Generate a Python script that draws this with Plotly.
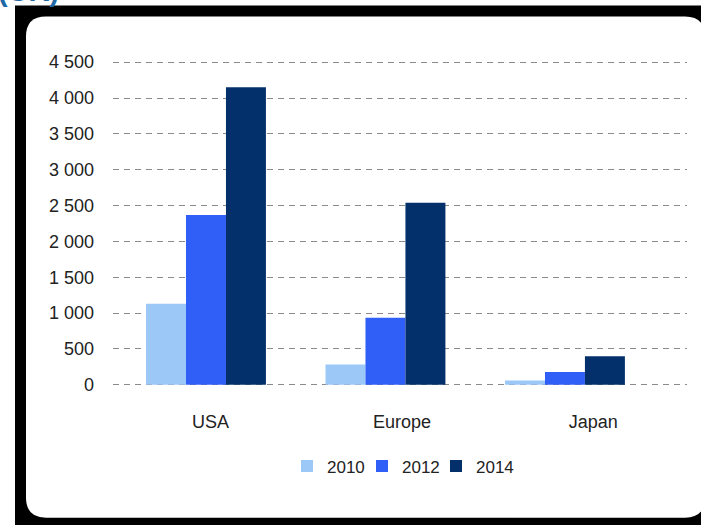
import plotly.graph_objects as go

# Data
regions = ["USA", "Europe", "Japan"]
years = ["2010", "2012", "2014"]
values_2010 = [1130, 285, 60]
values_2012 = [2370, 935, 180]
values_2014 = [4150, 2540, 400]
y_ticks = [0, 500, 1000, 1500, 2000, 2500, 3000, 3500, 4000, 4500]

series = [values_2010, values_2012, values_2014]
colors = ["#9cc8f7", "#2f5ff6", "#03306a"]

W, H = 701, 525
ML, MR, MT, MB = 113, 14, 60.35, 138.35
PW, PH = W - ML - MR, H - MT - MB


def px(x):
    return (x - ML) / PW


def py(y):
    return (H - MB - y) / PH


fig = go.Figure()
legend_names = ["legend", "legend2", "legend3"]
for name, vals, col, lg in zip(years, series, colors, legend_names):
    fig.add_trace(go.Bar(x=regions, y=vals, name=name, marker=dict(color=col, line=dict(width=0)),
                         xaxis="x", yaxis="y", legend=lg))

# category label axis
fig.add_trace(go.Scatter(x=regions, y=[0] * len(regions), mode="markers", marker=dict(opacity=0),
                         showlegend=False, hoverinfo="skip", xaxis="x2", yaxis="y"))

# frame: black border with a rounded white panel inside
r = 20
x0, x1, y0, y1 = 26, 705, 17, 517
rx, ry = r / PW, r / PH
X0, X1, Y0, Y1 = px(x0), px(x1), py(y0), py(y1)
panel = (f"M{X0 + rx},{Y0} L{X1 - rx},{Y0} Q{X1},{Y0} {X1},{Y0 - ry} "
         f"L{X1},{Y1 + ry} Q{X1},{Y1} {X1 - rx},{Y1} "
         f"L{X0 + rx},{Y1} Q{X0},{Y1} {X0},{Y1 + ry} "
         f"L{X0},{Y0 - ry} Q{X0},{Y0} {X0 + rx},{Y0} Z")
shapes = [
    dict(type="rect", xref="paper", yref="paper", x0=px(15), x1=px(701), y0=py(6), y1=py(525),
         fillcolor="black", line=dict(width=0), layer="below"),
    dict(type="path", xref="paper", yref="paper", path=panel, fillcolor="white",
         line=dict(width=0), layer="below"),
]

legend_style = dict(orientation="h", xanchor="left", yanchor="middle", y=py(466),
                    bgcolor="rgba(0,0,0,0)", font=dict(size=17, color="#222222"),
                    itemclick=False, itemdoubleclick=False)
swatch_left = [287, 362, 436]

fig.update_layout(
    width=W, height=H,
    margin=dict(l=ML, r=MR, t=MT, b=MB),
    paper_bgcolor="white", plot_bgcolor="rgba(0,0,0,0)",
    separators=", ",
    barmode="group", bargap=0.332, bargroupgap=0,
    font=dict(family="Liberation Sans, Arial, sans-serif", size=17, color="#222222"),
    shapes=shapes,
    xaxis=dict(type="category", range=[-0.518, 2.68], showticklabels=False, showgrid=False,
               zeroline=False, showline=False, ticks=""),
    xaxis2=dict(type="category", overlaying="x", side="bottom", range=[-0.51, 2.49],
                showgrid=False, zeroline=False, showline=False, ticks="",
                ticklabelstandoff=22, tickfont=dict(size=18, color="#222222")),
    yaxis=dict(range=[-30, 4530], tickvals=y_ticks, tickformat=",d", showgrid=True,
               gridcolor="#8a8a8a", gridwidth=1, griddash="6px,5px", zeroline=False,
               showline=False, ticks="", ticklabelstandoff=18,
               tickfont=dict(size=18, color="#222222")),
    legend=dict(legend_style, x=px(swatch_left[0])),
    legend2=dict(legend_style, x=px(swatch_left[1])),
    legend3=dict(legend_style, x=px(swatch_left[2])),
    annotations=[dict(text="<b>(UK)</b>", xref="paper", yref="paper", x=px(-4), y=py(9),
                      xanchor="left", yanchor="bottom", showarrow=False,
                      font=dict(size=29, color="#1f6aa6", family="Liberation Sans, Arial, sans-serif"))],
)

fig.write_html("out.html")
